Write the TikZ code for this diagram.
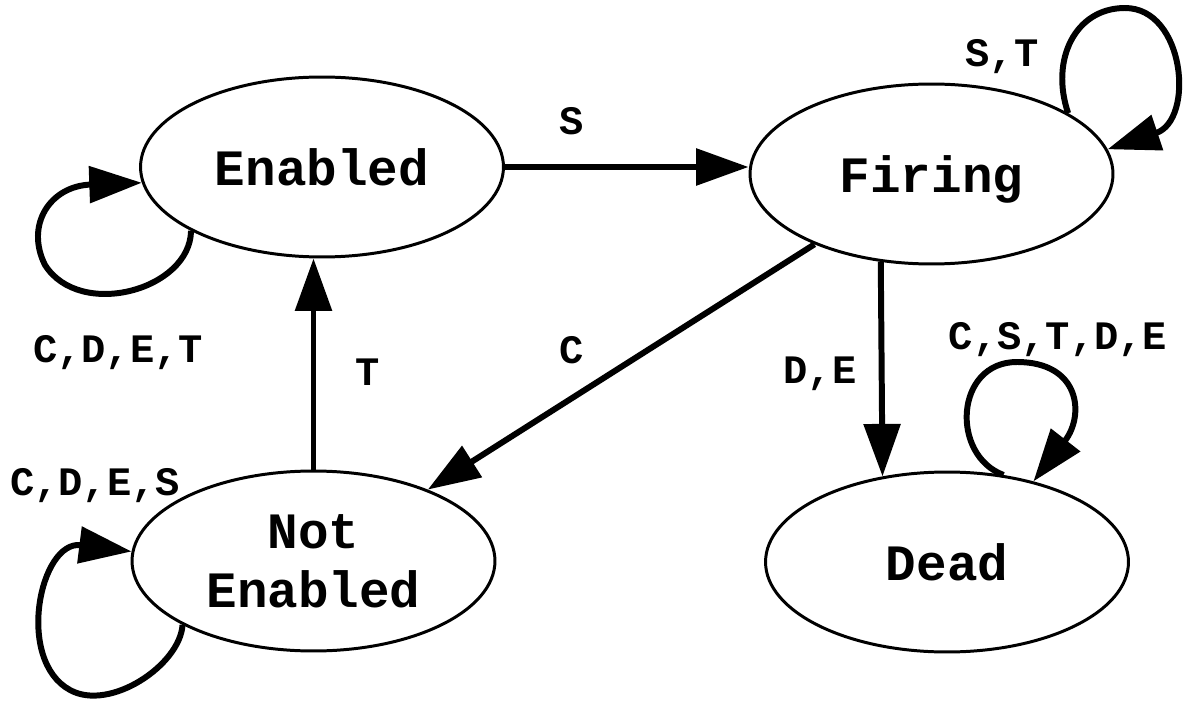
\documentclass[tikz,border=0pt]{standalone}
\usepackage{fontspec}
\setmonofont{Liberation Mono}
\usetikzlibrary{shapes.geometric,arrows.meta}
\begin{document}
\begin{tikzpicture}[x=0.02cm,y=-0.02cm,
  state/.style={ellipse,draw,line width=1.7pt,inner sep=0pt,
    minimum width=7.26cm,minimum height=3.6cm,align=center,text depth=0pt,
    font=\ttfamily\bfseries\fontsize{29}{34}\selectfont},
  trans/.style={line width=3.4pt,-{Triangle[length=1.05cm,width=0.72cm]}},
  lbl/.style={anchor=base,inner sep=0pt,
    font=\ttfamily\bfseries\fontsize{23}{27}\selectfont}]
\useasboundingbox (0,0) rectangle (1186,702);

% states
\node[state] (E) at (322,167) {Enabled};
\node[state] (F) at (931.5,174) {Firing};
\node[state] (N) at (313.5,561) {Not\\Enabled};
\node[state] (D) at (947,562) {Dead};

% transitions between states
\draw[trans] (E.east) -- (F.west |- E.east);
\draw[trans] (N.north) -- (N.north |- E.south);
\draw[trans] (F.211) -- (N.32);
\draw[trans] (F.240) -- (D.127);

% self loops
\draw[trans] (E.206) .. controls (190,290) and (80,320) .. (45,265)
  .. controls (25,225) and (50,186) .. (E.185);
\draw[trans] (N.206) .. controls (180,665) and (110,712) .. (70,690)
  .. controls (15,660) and (40,540) .. (N.177);
\draw[trans] (F.24) .. controls (1050,60) and (1075,8) .. (1125,8)
  .. controls (1185,8) and (1195,120) .. (F.8);
\draw[trans] (D.57) .. controls (950,455) and (955,362) .. (1017,362)
  .. controls (1080,362) and (1085,415) .. (D.43);

% transition labels
\node[lbl] (lS) at (572,135) {S};
\node[lbl] (lT) at (368,385) {T};
\node[lbl] (lC) at (572,363) {C};
\node[lbl] (lDE) at (820,383) {D,E};
\node[lbl] (lDead) at (1058,350) {C,S,T,D,E};
\node[lbl] (lFire) at (1002,67) {S,T};
\node[lbl] (lEn) at (118,362) {C,D,E,T};
\node[lbl] (lNot) at (95,495) {C,D,E,S};
\end{tikzpicture}
\end{document}
